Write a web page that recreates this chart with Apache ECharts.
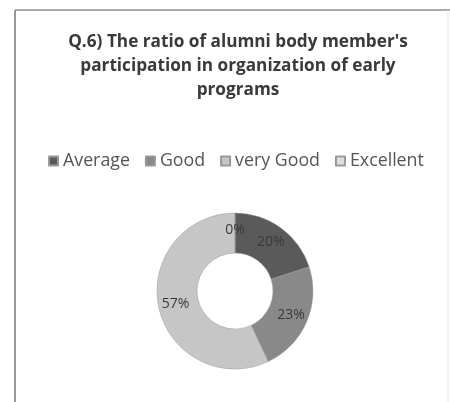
<!DOCTYPE html>
<html>
<head>
<meta charset="utf-8">
<script src="https://cdn.jsdelivr.net/npm/echarts@6/dist/echarts.min.js"></script>
<style>
html,body{margin:0;padding:0;background:#fff;}
#c{width:450px;height:402px;}
</style>
</head>
<body>
<div id="c"></div>
<script>
const categories = ['Average', 'Good', 'very Good', 'Excellent'];
const values = [20, 23, 57, 0];
const colors = ['#5a5a5a', '#898989', '#c6c6c6', '#dedede'];
const titleText = "Q.6) The ratio of alumni body member's\nparticipation in organization of early\nprograms";

const chart = echarts.init(document.getElementById('c'));
chart.setOption({
  animation: false,
  title: {
    text: titleText,
    left: 233,
    textAlign: 'center',
    top: 25,
    textStyle: { fontFamily: 'Open Sans', fontWeight: 'bold', fontSize: 17.2, color: '#3a3a3a', lineHeight: 24 }
  },
  legend: {
    data: categories,
    top: 147,
    left: 43,
    itemWidth: 9,
    itemHeight: 9,
    itemGap: 15,
    icon: 'rect',
    textStyle: { fontFamily: 'Open Sans', fontSize: 17.8, color: '#555', padding: [0, 0, 0, 0] }
  },
  graphic: [
    { type: 'line', shape: { x1: 15, y1: 10, x2: 450, y2: 10 }, style: { stroke: '#aaa', lineWidth: 2 } },
    { type: 'line', shape: { x1: 15, y1: 10, x2: 15, y2: 402 }, style: { stroke: '#999', lineWidth: 2 } },
    { type: 'line', shape: { x1: 448, y1: 10, x2: 448, y2: 402 }, style: { stroke: '#e4e4e4', lineWidth: 1 } }
  ],
  series: [{
    type: 'pie',
    center: [235, 291],
    radius: [38, 78],
    startAngle: 90,
    clockwise: true,
    data: categories.map((n, i) => ({ name: n, value: values[i], itemStyle: { color: colors[i] } })),
    itemStyle: { borderColor: '#999', borderWidth: 0.5 },
    label: {
      show: true,
      position: 'inside',
      formatter: '{d}%',
      fontFamily: 'Open Sans',
      fontSize: 14,
      color: '#3a3a3a'
    },
    labelLine: { show: false },
    emphasis: { disabled: true }
  }]
});
</script>
</body>
</html>
